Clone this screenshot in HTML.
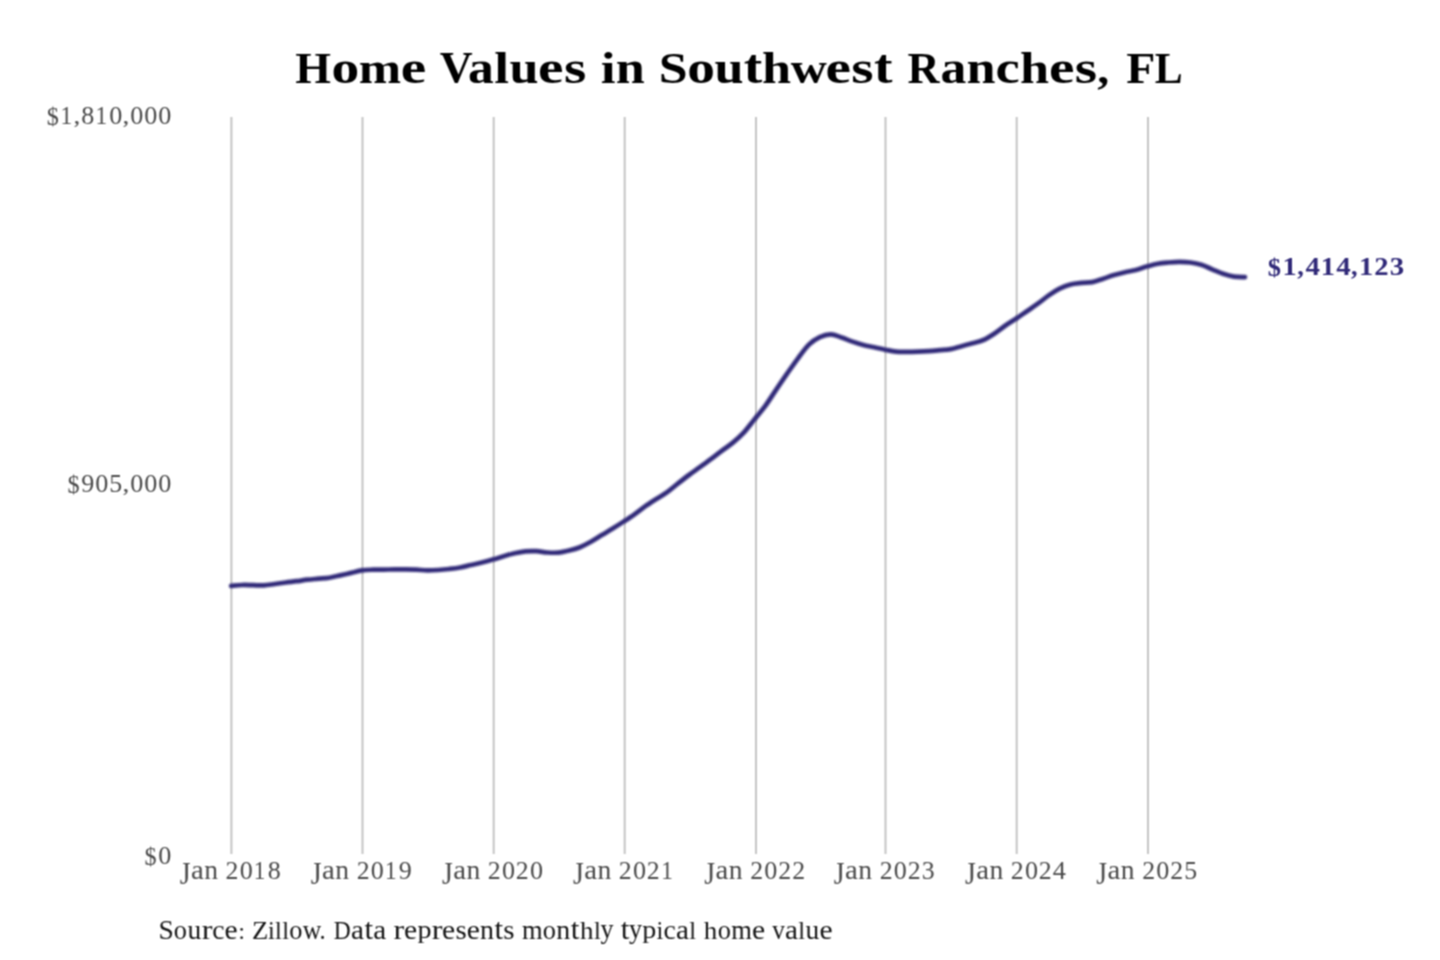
<!DOCTYPE html>
<html><head><meta charset="utf-8"><title>Home Values in Southwest Ranches, FL</title>
<style>
html,body{margin:0;padding:0;background:#fff;}
body{width:1440px;height:960px;overflow:hidden;}
svg{display:block;}
text{font-family:"Liberation Serif", serif;}
</style></head>
<body>
<svg width="1440" height="960" viewBox="0 0 1440 960">
<defs><filter id="b" x="0" y="0" width="1440" height="960" filterUnits="userSpaceOnUse" color-interpolation-filters="sRGB"><feConvolveMatrix order="3" kernelMatrix="0.0625 0.1250 0.0625 0.1250 0.2500 0.1250 0.0625 0.1250 0.0625" divisor="1" edgeMode="duplicate"/></filter></defs>
<g id="all" filter="url(#b)">
<rect width="1440" height="960" fill="#ffffff"/>
<line x1="231.40" y1="117" x2="231.40" y2="854" stroke="#c4c4c4" stroke-width="2.00"/>
<line x1="362.50" y1="117" x2="362.50" y2="854" stroke="#c4c4c4" stroke-width="2.00"/>
<line x1="493.70" y1="117" x2="493.70" y2="854" stroke="#c4c4c4" stroke-width="2.00"/>
<line x1="624.70" y1="117" x2="624.70" y2="854" stroke="#c4c4c4" stroke-width="2.00"/>
<line x1="756.00" y1="117" x2="756.00" y2="854" stroke="#c4c4c4" stroke-width="2.00"/>
<line x1="885.50" y1="117" x2="885.50" y2="854" stroke="#c4c4c4" stroke-width="2.00"/>
<line x1="1016.70" y1="117" x2="1016.70" y2="854" stroke="#c4c4c4" stroke-width="2.00"/>
<line x1="1148.00" y1="117" x2="1148.00" y2="854" stroke="#c4c4c4" stroke-width="2.00"/>
<g font-size="100" font-weight="bold" fill="#000000"><text transform="matrix(0.45956 0 0 0.44634 295.21 83.00)">H</text><text transform="matrix(0.55424 0 0 0.45625 331.53 83.12)">o</text><text transform="matrix(0.50857 0 0 0.45366 358.74 83.00)">m</text><text transform="matrix(0.57432 0 0 0.45765 400.84 83.14)">e</text><text transform="matrix(0.45601 0 0 0.43626 439.87 82.34)">V</text><text transform="matrix(0.51723 0 0 0.45811 468.02 83.12)">a</text><text transform="matrix(0.53318 0 0 0.43899 494.35 83.00)">l</text><text transform="matrix(0.52235 0 0 0.45366 509.38 83.01)">u</text><text transform="matrix(0.57432 0 0 0.45765 538.08 83.14)">e</text><text transform="matrix(0.57414 0 0 0.45625 563.89 83.12)">s</text><text transform="matrix(0.53318 0 0 0.43899 600.63 83.00)">i</text><text transform="matrix(0.52235 0 0 0.45366 615.63 83.00)">n</text><text transform="matrix(0.51909 0 0 0.45130 658.65 83.13)">S</text><text transform="matrix(0.55424 0 0 0.45625 687.25 83.12)">o</text><text transform="matrix(0.52235 0 0 0.45366 714.59 83.01)">u</text><text transform="matrix(0.55562 0 0 0.48600 743.67 83.09)">t</text><text transform="matrix(0.52303 0 0 0.43899 762.06 83.00)">h</text><text transform="matrix(0.49962 0 0 0.44391 790.77 82.57)">w</text><text transform="matrix(0.57432 0 0 0.45765 825.46 83.14)">e</text><text transform="matrix(0.57414 0 0 0.45625 851.27 83.12)">s</text><text transform="matrix(0.55562 0 0 0.48600 873.92 83.09)">t</text><text transform="matrix(0.44368 0 0 0.44634 907.46 83.00)">R</text><text transform="matrix(0.51723 0 0 0.45811 940.55 83.12)">a</text><text transform="matrix(0.52235 0 0 0.45366 966.52 83.00)">n</text><text transform="matrix(0.54488 0 0 0.45672 995.48 83.14)">c</text><text transform="matrix(0.52303 0 0 0.43899 1020.04 83.00)">h</text><text transform="matrix(0.57432 0 0 0.45765 1048.93 83.14)">e</text><text transform="matrix(0.57414 0 0 0.45625 1074.74 83.12)">s</text><text transform="matrix(0.47970 0 0 0.42620 1097.23 83.02)">,</text><text transform="matrix(0.47728 0 0 0.44634 1126.31 83.00)">F</text><text transform="matrix(0.41829 0 0 0.44634 1154.87 83.00)">L</text></g>
<g font-size="100" font-weight="normal" fill="#4a4a4a"><text transform="matrix(0.24167 0 0 0.25907 46.63 125.06)">$</text><text transform="matrix(0.23251 0 0 0.26054 60.44 123.80)">1</text><text transform="matrix(0.27338 0 0 0.22191 73.55 123.38)">,</text><text transform="matrix(0.26055 0 0 0.25951 81.26 123.86)">8</text><text transform="matrix(0.23251 0 0 0.26054 95.42 123.80)">1</text><text transform="matrix(0.26157 0 0 0.25951 109.23 123.86)">0</text><text transform="matrix(0.27338 0 0 0.22191 122.53 123.38)">,</text><text transform="matrix(0.26157 0 0 0.25951 130.22 123.86)">0</text><text transform="matrix(0.26157 0 0 0.25951 144.22 123.86)">0</text><text transform="matrix(0.26157 0 0 0.25951 158.22 123.86)">0</text></g>
<g font-size="100" font-weight="normal" fill="#4a4a4a"><text transform="matrix(0.24167 0 0 0.25907 67.62 493.16)">$</text><text transform="matrix(0.26078 0 0 0.26064 81.33 491.96)">9</text><text transform="matrix(0.26157 0 0 0.25951 95.24 491.96)">0</text><text transform="matrix(0.25893 0 0 0.25952 109.14 491.96)">5</text><text transform="matrix(0.27338 0 0 0.22191 122.53 491.48)">,</text><text transform="matrix(0.26157 0 0 0.25951 130.22 491.96)">0</text><text transform="matrix(0.26157 0 0 0.25951 144.22 491.96)">0</text><text transform="matrix(0.26157 0 0 0.25951 158.22 491.96)">0</text></g>
<g font-size="100" font-weight="normal" fill="#4a4a4a"><text transform="matrix(0.24167 0 0 0.25907 144.60 864.96)">$</text><text transform="matrix(0.26157 0 0 0.25951 158.22 863.76)">0</text></g>
<g font-size="100" font-weight="normal" fill="#4a4a4a"><text transform="matrix(0.27817 0 0 0.32370 179.68 883.66)">J</text><text transform="matrix(0.28853 0 0 0.27790 191.01 879.44)">a</text><text transform="matrix(0.27628 0 0 0.27590 204.20 879.40)">n</text><text transform="matrix(0.25805 0 0 0.25978 225.56 879.40)">2</text><text transform="matrix(0.26157 0 0 0.25951 239.66 879.46)">0</text><text transform="matrix(0.23251 0 0 0.26054 253.84 879.40)">1</text><text transform="matrix(0.26055 0 0 0.25951 267.68 879.46)">8</text></g>
<g font-size="100" font-weight="normal" fill="#4a4a4a"><text transform="matrix(0.27817 0 0 0.32370 310.78 883.66)">J</text><text transform="matrix(0.28853 0 0 0.27790 322.11 879.44)">a</text><text transform="matrix(0.27628 0 0 0.27590 335.30 879.40)">n</text><text transform="matrix(0.25805 0 0 0.25978 356.66 879.40)">2</text><text transform="matrix(0.26157 0 0 0.25951 370.76 879.46)">0</text><text transform="matrix(0.23251 0 0 0.26054 384.94 879.40)">1</text><text transform="matrix(0.26078 0 0 0.26064 398.84 879.46)">9</text></g>
<g font-size="100" font-weight="normal" fill="#4a4a4a"><text transform="matrix(0.27817 0 0 0.32370 441.98 883.66)">J</text><text transform="matrix(0.28853 0 0 0.27790 453.31 879.44)">a</text><text transform="matrix(0.27628 0 0 0.27590 466.50 879.40)">n</text><text transform="matrix(0.25805 0 0 0.25978 487.86 879.40)">2</text><text transform="matrix(0.26157 0 0 0.25951 501.96 879.46)">0</text><text transform="matrix(0.25805 0 0 0.25978 515.86 879.40)">2</text><text transform="matrix(0.26157 0 0 0.25951 529.95 879.46)">0</text></g>
<g font-size="100" font-weight="normal" fill="#4a4a4a"><text transform="matrix(0.27817 0 0 0.32370 572.98 883.66)">J</text><text transform="matrix(0.28853 0 0 0.27790 584.31 879.44)">a</text><text transform="matrix(0.27628 0 0 0.27590 597.50 879.40)">n</text><text transform="matrix(0.25805 0 0 0.25978 618.86 879.40)">2</text><text transform="matrix(0.26157 0 0 0.25951 632.96 879.46)">0</text><text transform="matrix(0.25805 0 0 0.25978 646.86 879.40)">2</text><text transform="matrix(0.23251 0 0 0.26054 661.14 879.40)">1</text></g>
<g font-size="100" font-weight="normal" fill="#4a4a4a"><text transform="matrix(0.27817 0 0 0.32370 704.28 883.66)">J</text><text transform="matrix(0.28853 0 0 0.27790 715.61 879.44)">a</text><text transform="matrix(0.27628 0 0 0.27590 728.80 879.40)">n</text><text transform="matrix(0.25805 0 0 0.25978 750.16 879.40)">2</text><text transform="matrix(0.26157 0 0 0.25951 764.26 879.46)">0</text><text transform="matrix(0.25805 0 0 0.25978 778.16 879.40)">2</text><text transform="matrix(0.25805 0 0 0.25978 792.16 879.40)">2</text></g>
<g font-size="100" font-weight="normal" fill="#4a4a4a"><text transform="matrix(0.27817 0 0 0.32370 833.78 883.66)">J</text><text transform="matrix(0.28853 0 0 0.27790 845.11 879.44)">a</text><text transform="matrix(0.27628 0 0 0.27590 858.30 879.40)">n</text><text transform="matrix(0.25805 0 0 0.25978 879.66 879.40)">2</text><text transform="matrix(0.26157 0 0 0.25951 893.76 879.46)">0</text><text transform="matrix(0.25805 0 0 0.25978 907.66 879.40)">2</text><text transform="matrix(0.25875 0 0 0.26064 921.73 879.46)">3</text></g>
<g font-size="100" font-weight="normal" fill="#4a4a4a"><text transform="matrix(0.27817 0 0 0.32370 964.98 883.66)">J</text><text transform="matrix(0.28853 0 0 0.27790 976.31 879.44)">a</text><text transform="matrix(0.27628 0 0 0.27590 989.50 879.40)">n</text><text transform="matrix(0.25805 0 0 0.25978 1010.86 879.40)">2</text><text transform="matrix(0.26157 0 0 0.25951 1024.96 879.46)">0</text><text transform="matrix(0.25805 0 0 0.25978 1038.86 879.40)">2</text><text transform="matrix(0.26275 0 0 0.26132 1052.66 879.40)">4</text></g>
<g font-size="100" font-weight="normal" fill="#4a4a4a"><text transform="matrix(0.27817 0 0 0.32370 1096.28 883.66)">J</text><text transform="matrix(0.28853 0 0 0.27790 1107.61 879.44)">a</text><text transform="matrix(0.27628 0 0 0.27590 1120.80 879.40)">n</text><text transform="matrix(0.25805 0 0 0.25978 1142.16 879.40)">2</text><text transform="matrix(0.26157 0 0 0.25951 1156.26 879.46)">0</text><text transform="matrix(0.25805 0 0 0.25978 1170.16 879.40)">2</text><text transform="matrix(0.25893 0 0 0.25952 1184.16 879.46)">5</text></g>
<g font-size="100" font-weight="normal" fill="#151515"><text transform="matrix(0.27488 0 0 0.26360 158.55 938.96)">S</text><text transform="matrix(0.26351 0 0 0.27992 173.87 938.94)">o</text><text transform="matrix(0.27477 0 0 0.27976 187.40 938.94)">u</text><text transform="matrix(0.32321 0 0 0.27903 201.65 938.90)">r</text><text transform="matrix(0.27552 0 0 0.27992 212.19 938.94)">c</text><text transform="matrix(0.29588 0 0 0.27992 224.54 938.94)">e</text><text transform="matrix(0.24558 0 0 0.22794 238.13 938.89)">:</text><text transform="matrix(0.26738 0 0 0.26157 252.05 938.90)">Z</text><text transform="matrix(0.24397 0 0 0.26078 268.08 938.90)">i</text><text transform="matrix(0.24443 0 0 0.25508 275.05 938.90)">l</text><text transform="matrix(0.24443 0 0 0.25508 282.17 938.90)">l</text><text transform="matrix(0.26351 0 0 0.27992 289.24 938.94)">o</text><text transform="matrix(0.25660 0 0 0.27304 302.86 938.63)">w</text><text transform="matrix(0.24457 0 0 0.26917 319.42 938.83)">.</text><text transform="matrix(0.23464 0 0 0.26080 333.63 938.85)">D</text><text transform="matrix(0.29181 0 0 0.28106 351.00 938.94)">a</text><text transform="matrix(0.30993 0 0 0.28721 364.52 938.93)">t</text><text transform="matrix(0.29181 0 0 0.28106 373.21 938.94)">a</text><text transform="matrix(0.32321 0 0 0.27903 393.62 938.90)">r</text><text transform="matrix(0.29588 0 0 0.27992 404.05 938.94)">e</text><text transform="matrix(0.28063 0 0 0.25985 417.46 938.00)">p</text><text transform="matrix(0.32321 0 0 0.27903 431.67 938.90)">r</text><text transform="matrix(0.29588 0 0 0.27992 442.10 938.94)">e</text><text transform="matrix(0.28935 0 0 0.27992 455.38 938.94)">s</text><text transform="matrix(0.29588 0 0 0.27992 466.69 938.94)">e</text><text transform="matrix(0.27942 0 0 0.27903 480.06 938.90)">n</text><text transform="matrix(0.30993 0 0 0.28721 494.57 938.93)">t</text><text transform="matrix(0.28935 0 0 0.27992 503.23 938.94)">s</text><text transform="matrix(0.26559 0 0 0.27903 521.91 938.90)">m</text><text transform="matrix(0.26351 0 0 0.27992 542.87 938.94)">o</text><text transform="matrix(0.27942 0 0 0.27903 556.32 938.90)">n</text><text transform="matrix(0.30993 0 0 0.28721 570.82 938.93)">t</text><text transform="matrix(0.27055 0 0 0.25508 579.97 938.90)">h</text><text transform="matrix(0.24443 0 0 0.25508 593.91 938.90)">l</text><text transform="matrix(0.25977 0 0 0.26292 600.49 938.17)">y</text><text transform="matrix(0.30993 0 0 0.28721 620.85 938.93)">t</text><text transform="matrix(0.25977 0 0 0.26292 629.08 938.17)">y</text><text transform="matrix(0.28063 0 0 0.25985 642.22 938.00)">p</text><text transform="matrix(0.24397 0 0 0.26078 656.56 938.90)">i</text><text transform="matrix(0.27552 0 0 0.27992 663.45 938.94)">c</text><text transform="matrix(0.29181 0 0 0.28106 675.93 938.94)">a</text><text transform="matrix(0.24443 0 0 0.25508 689.26 938.90)">l</text><text transform="matrix(0.27055 0 0 0.25508 703.84 938.90)">h</text><text transform="matrix(0.26351 0 0 0.27992 717.74 938.94)">o</text><text transform="matrix(0.26559 0 0 0.27903 731.27 938.90)">m</text><text transform="matrix(0.29588 0 0 0.27992 752.08 938.94)">e</text><text transform="matrix(0.25140 0 0 0.27304 772.30 938.63)">v</text><text transform="matrix(0.29181 0 0 0.28106 785.02 938.94)">a</text><text transform="matrix(0.24443 0 0 0.25508 798.35 938.90)">l</text><text transform="matrix(0.27477 0 0 0.27976 805.55 938.94)">u</text><text transform="matrix(0.29588 0 0 0.27992 819.60 938.94)">e</text></g>
<g font-size="100" font-weight="bold" fill="#302978"><text transform="matrix(0.26495 0 0 0.25980 1267.64 276.04)">$</text><text transform="matrix(0.28396 0 0 0.26114 1282.39 274.80)">1</text><text transform="matrix(0.26384 0 0 0.24673 1297.26 274.62)">,</text><text transform="matrix(0.28932 0 0 0.26191 1305.50 274.80)">4</text><text transform="matrix(0.28396 0 0 0.26114 1320.75 274.80)">1</text><text transform="matrix(0.28932 0 0 0.26191 1336.18 274.80)">4</text><text transform="matrix(0.26384 0 0 0.24673 1350.96 274.62)">,</text><text transform="matrix(0.28396 0 0 0.26114 1359.11 274.80)">1</text><text transform="matrix(0.28639 0 0 0.26037 1374.31 274.80)">2</text><text transform="matrix(0.28939 0 0 0.26123 1389.83 274.86)">3</text></g>
</g>
<defs><filter id="lb" x="0" y="0" width="1440" height="960" filterUnits="userSpaceOnUse" color-interpolation-filters="sRGB"><feGaussianBlur stdDeviation="1.00"/></filter></defs>
<path d="M231.20,585.80 C233.02,585.67 238.47,585.11 242.10,585.00 C245.73,584.89 249.37,585.08 253.00,585.15 C256.63,585.22 260.27,585.59 263.90,585.40 C267.53,585.21 271.17,584.48 274.80,584.00 C278.43,583.52 282.07,582.97 285.70,582.50 C289.33,582.03 292.97,581.67 296.60,581.20 C300.23,580.73 303.87,580.12 307.50,579.70 C311.13,579.28 314.77,579.03 318.40,578.70 C322.03,578.37 325.67,578.25 329.30,577.70 C332.93,577.15 336.57,576.20 340.20,575.40 C343.83,574.60 347.47,573.73 351.10,572.90 C354.73,572.07 358.37,570.93 362.00,570.40 C365.63,569.87 369.27,569.83 372.90,569.70 C376.53,569.57 380.17,569.65 383.80,569.60 C387.43,569.55 391.07,569.43 394.70,569.40 C398.33,569.37 401.97,569.35 405.60,569.40 C409.23,569.45 412.87,569.53 416.50,569.70 C420.13,569.87 423.77,570.35 427.40,570.40 C431.03,570.45 434.67,570.23 438.30,570.00 C441.93,569.77 445.57,569.42 449.20,569.00 C452.83,568.58 456.47,568.17 460.10,567.50 C463.73,566.83 467.37,565.83 471.00,565.00 C474.63,564.17 478.27,563.40 481.90,562.50 C485.53,561.60 489.17,560.65 492.80,559.60 C496.43,558.55 500.07,557.25 503.70,556.20 C507.33,555.15 510.97,554.10 514.60,553.30 C518.23,552.50 521.87,551.75 525.50,551.40 C529.13,551.05 532.77,551.02 536.40,551.20 C540.03,551.38 543.67,552.27 547.30,552.50 C550.93,552.73 554.57,552.93 558.20,552.60 C561.83,552.27 565.47,551.40 569.10,550.50 C572.73,549.60 576.37,548.65 580.00,547.20 C583.63,545.75 587.27,543.82 590.90,541.80 C594.53,539.78 598.17,537.31 601.80,535.10 C605.43,532.89 609.07,530.79 612.70,528.55 C616.33,526.31 619.97,524.02 623.60,521.65 C627.23,519.27 630.87,516.88 634.50,514.30 C638.13,511.73 641.77,508.75 645.40,506.20 C649.03,503.65 652.67,501.35 656.30,499.00 C659.93,496.65 663.57,494.70 667.20,492.10 C670.83,489.50 674.47,486.25 678.10,483.40 C681.73,480.55 685.37,477.70 689.00,475.00 C692.63,472.30 696.27,469.83 699.90,467.20 C703.53,464.57 707.17,461.93 710.80,459.20 C714.43,456.47 718.07,453.52 721.70,450.80 C725.33,448.08 728.97,445.88 732.60,442.90 C736.23,439.92 739.87,436.82 743.50,432.90 C747.13,428.98 750.77,423.90 754.40,419.40 C758.03,414.90 761.67,410.87 765.30,405.90 C768.93,400.93 772.57,394.98 776.20,389.60 C779.83,384.22 783.47,378.82 787.10,373.60 C790.73,368.38 794.37,363.13 798.00,358.30 C801.63,353.47 805.27,348.13 808.90,344.60 C812.53,341.07 816.17,338.82 819.80,337.10 C823.43,335.38 827.07,334.23 830.70,334.30 C834.33,334.37 837.97,336.27 841.60,337.50 C845.23,338.73 848.87,340.40 852.50,341.65 C856.13,342.90 859.77,344.06 863.40,345.00 C867.03,345.94 870.67,346.52 874.30,347.30 C877.93,348.08 881.57,348.97 885.20,349.70 C888.83,350.43 892.47,351.28 896.10,351.65 C899.73,352.02 903.37,351.90 907.00,351.90 C910.63,351.90 914.27,351.78 917.90,351.65 C921.53,351.52 925.17,351.34 928.80,351.10 C932.43,350.86 936.07,350.52 939.70,350.20 C943.33,349.88 946.97,349.82 950.60,349.15 C954.23,348.48 957.87,347.18 961.50,346.20 C965.13,345.22 968.77,344.33 972.40,343.30 C976.03,342.27 979.67,341.60 983.30,340.00 C986.93,338.40 990.57,336.07 994.20,333.70 C997.83,331.33 1001.47,328.30 1005.10,325.80 C1008.73,323.30 1012.37,321.13 1016.00,318.70 C1019.63,316.27 1023.27,313.70 1026.90,311.20 C1030.53,308.70 1034.17,306.33 1037.80,303.70 C1041.43,301.07 1045.07,297.90 1048.70,295.40 C1052.33,292.90 1055.97,290.52 1059.60,288.70 C1063.23,286.88 1066.87,285.47 1070.50,284.50 C1074.13,283.53 1077.77,283.30 1081.40,282.90 C1085.03,282.50 1088.67,282.80 1092.30,282.10 C1095.93,281.40 1099.57,279.88 1103.20,278.70 C1106.83,277.52 1110.47,276.08 1114.10,275.00 C1117.73,273.92 1121.37,273.03 1125.00,272.20 C1128.63,271.37 1132.27,270.93 1135.90,270.00 C1139.53,269.07 1143.17,267.65 1146.80,266.60 C1150.43,265.55 1154.07,264.38 1157.70,263.70 C1161.33,263.02 1164.97,262.80 1168.60,262.50 C1172.23,262.20 1175.87,261.90 1179.50,261.90 C1183.13,261.90 1186.77,262.02 1190.40,262.50 C1194.03,262.98 1197.67,263.67 1201.30,264.80 C1204.93,265.93 1208.57,267.79 1212.20,269.30 C1215.83,270.81 1219.47,272.62 1223.10,273.85 C1226.73,275.07 1230.37,276.11 1234.00,276.65 C1237.63,277.19 1243.08,277.02 1244.90,277.10" fill="none" stroke="#302978" stroke-width="4.70" stroke-linejoin="round" stroke-linecap="round" filter="url(#lb)"/>
</svg>
</body></html>
